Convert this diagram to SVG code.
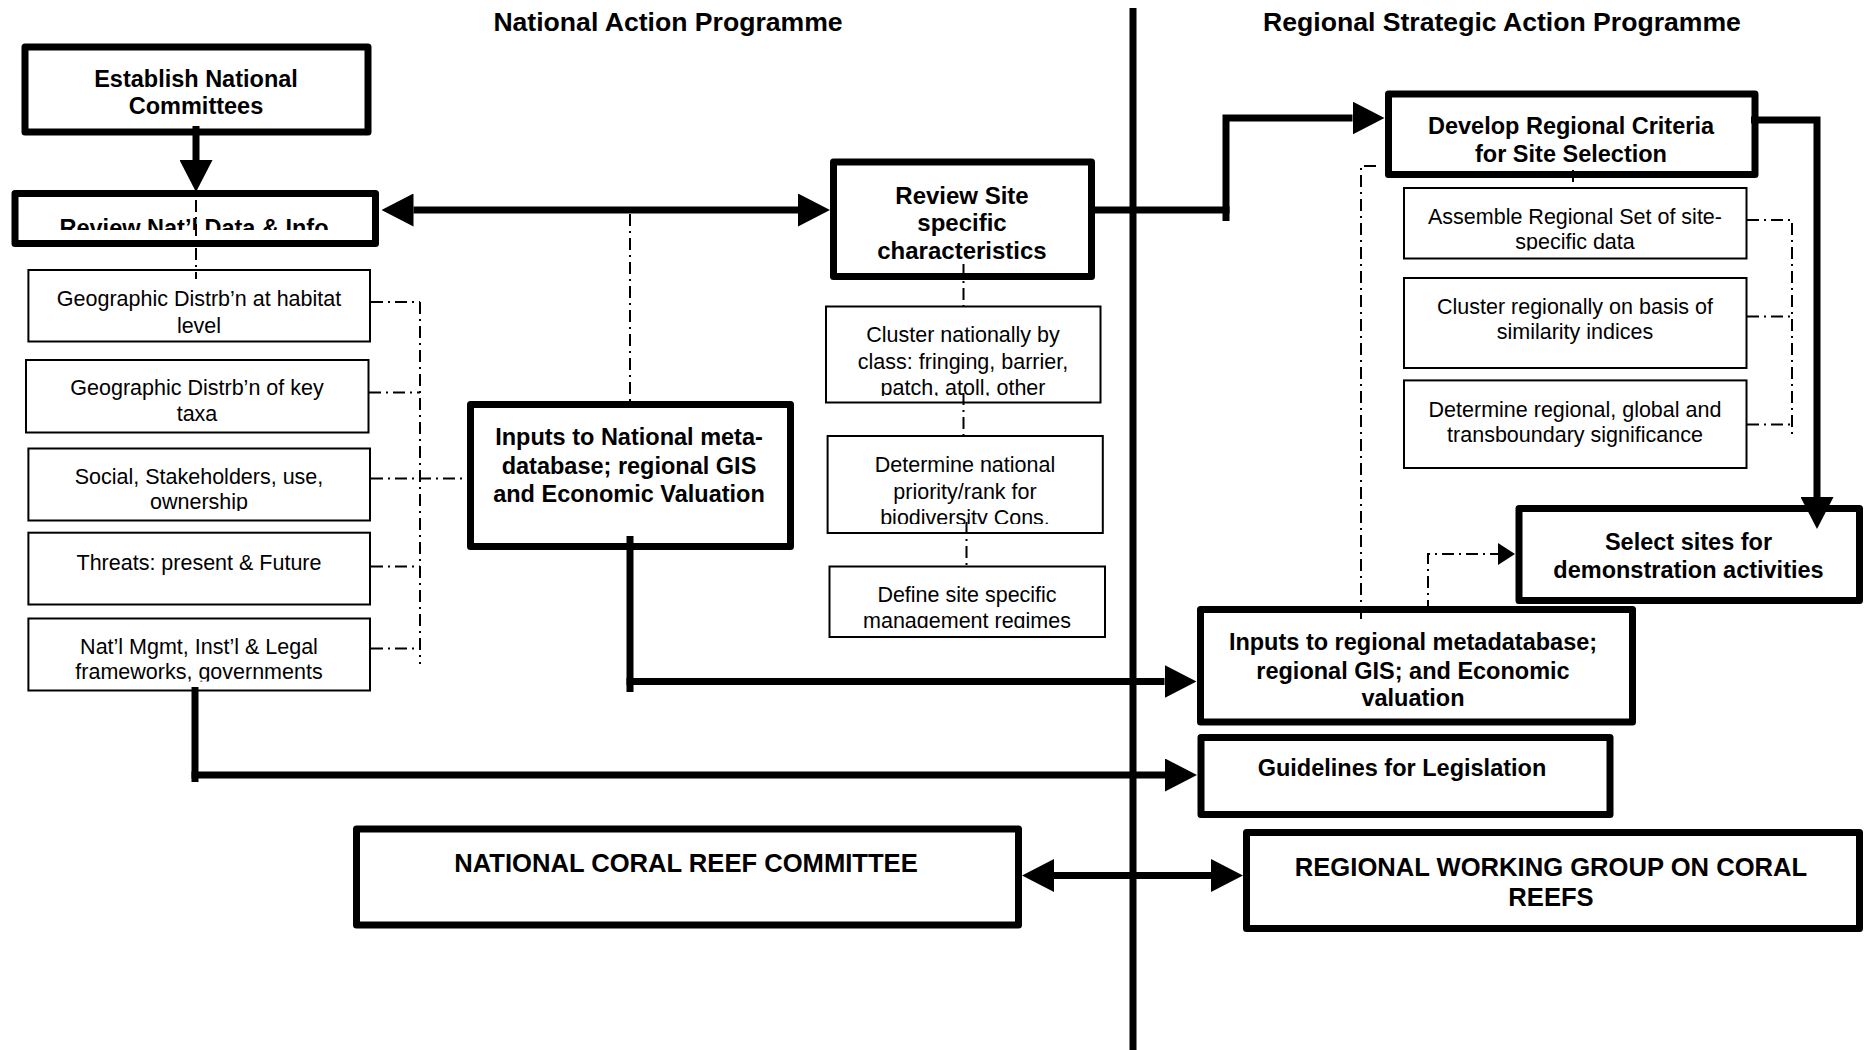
<svg xmlns="http://www.w3.org/2000/svg" width="1865" height="1050" viewBox="0 0 1865 1050">
<style>
text{font-family:"Liberation Sans",Arial,Helvetica,sans-serif;text-anchor:middle;fill:#000}
.b{font-weight:bold;font-size:23.5px}
.r{font-size:21.5px}
.t{font-weight:bold;font-size:26.6px}
.u{font-weight:bold;font-size:25.6px}
.thick{fill:#fff;stroke:#000;stroke-width:7;stroke-linejoin:round}
.thin{fill:#fff;stroke:#000;stroke-width:2}
.conn{fill:none;stroke:#000;stroke-width:7;stroke-linejoin:miter}
.dd{fill:none;stroke:#000;stroke-width:2;stroke-dasharray:12 5 2 5}
</style>
<defs>
<marker id="ah" markerUnits="userSpaceOnUse" viewBox="0 0 32 33" markerWidth="32" markerHeight="33" refX="0" refY="16.5" orient="auto-start-reverse"><path d="M0,0 L32,16.5 L0,33 z"/></marker>
<marker id="ahs" markerUnits="userSpaceOnUse" viewBox="0 0 17 22" markerWidth="17" markerHeight="22" refX="0" refY="11" orient="auto"><path d="M0,0 L17,11 L0,22 z"/></marker>
<clipPath id="cReview"><rect x="15" y="195" width="362" height="35"/></clipPath>
<clipPath id="cSocial"><rect x="29" y="449" width="340" height="62"/></clipPath>
<clipPath id="cMgmt"><rect x="29" y="619" width="340" height="62.5"/></clipPath>
<clipPath id="cAssemble"><rect x="1405" y="189" width="341" height="61.5"/></clipPath>
<clipPath id="cClusterN"><rect x="827" y="307" width="273" height="89"/></clipPath>
<clipPath id="cDetN"><rect x="828" y="437" width="274" height="87"/></clipPath>
<clipPath id="cDefine"><rect x="830" y="567" width="274" height="61"/></clipPath>
</defs>
<rect width="1865" height="1050" fill="#fff"/>

<g id="titles">
<text class="t" x="668" y="30.5">National Action Programme</text>
<text class="t" x="1502" y="30.5">Regional Strategic Action Programme</text>
</g>

<g id="divider"><line x1="1133" y1="8" x2="1133" y2="1050" stroke="#000" stroke-width="7"/></g>

<g id="establish">
<rect class="thick" x="25" y="47" width="343" height="85"/>
<text class="b" x="196" y="87">Establish National</text>
<text class="b" x="196" y="114">Committees</text>
</g>

<g id="review-natl">
<rect class="thick" x="15" y="193.5" width="360.5" height="50"/>
<text class="b" x="194" y="235.5" clip-path="url(#cReview)">Review Nat’l Data &amp; Info</text>
</g>

<g id="geo-habitat">
<rect class="thin" x="28.4" y="270" width="341.6" height="71.5"/>
<text class="r" x="199" y="306">Geographic Distrb’n at habitat</text>
<text class="r" x="199" y="333">level</text>
</g>
<g id="geo-taxa">
<rect class="thin" x="26" y="360" width="342.5" height="72.5"/>
<text class="r" x="197" y="395">Geographic Distrb’n of key</text>
<text class="r" x="197" y="421">taxa</text>
</g>
<g id="social">
<rect class="thin" x="28.4" y="448.5" width="341.6" height="72"/>
<g clip-path="url(#cSocial)">
<text class="r" x="199" y="483.5">Social, Stakeholders, use,</text>
<text class="r" x="199" y="508.5">ownership</text>
</g>
</g>
<g id="threats">
<rect class="thin" x="28.4" y="532.7" width="341.6" height="71.8"/>
<text class="r" x="199" y="570">Threats: present &amp; Future</text>
</g>
<g id="mgmt">
<rect class="thin" x="28.4" y="618.5" width="341.6" height="72"/>
<g clip-path="url(#cMgmt)">
<text class="r" x="199" y="654">Nat’l Mgmt, Inst’l &amp; Legal</text>
<text class="r" x="199" y="679">frameworks, governments</text>
</g>
</g>

<g id="inputs-natl">
<rect class="thick" x="470.5" y="404.5" width="320" height="142"/>
<text class="b" x="629" y="445">Inputs to National meta-</text>
<text class="b" x="629" y="473.5">database; regional GIS</text>
<text class="b" x="629" y="502">and Economic Valuation</text>
</g>

<g id="review-site">
<rect class="thick" x="833.5" y="162" width="258" height="114.5"/>
<text class="b" x="962" y="203.5" style="font-size:24px">Review Site</text>
<text class="b" x="962" y="231" style="font-size:24px">specific</text>
<text class="b" x="962" y="258.5" style="font-size:24px">characteristics</text>
</g>

<g id="cluster-natl">
<rect class="thin" x="826" y="306.5" width="274.5" height="96"/>
<g clip-path="url(#cClusterN)">
<text class="r" x="963" y="342">Cluster nationally by</text>
<text class="r" x="963" y="368.5">class: fringing, barrier,</text>
<text class="r" x="963" y="394.5">patch, atoll, other</text>
</g>
</g>
<g id="determine-natl">
<rect class="thin" x="827.6" y="436" width="275.2" height="97"/>
<g clip-path="url(#cDetN)">
<text class="r" x="965" y="472">Determine national</text>
<text class="r" x="965" y="498.5">priority/rank for</text>
<text class="r" x="965" y="524.5">biodiversity Cons.</text>
</g>
</g>
<g id="define">
<rect class="thin" x="829.5" y="566.5" width="275.5" height="70.5"/>
<g clip-path="url(#cDefine)">
<text class="r" x="967" y="602">Define site specific</text>
<text class="r" x="967" y="627.5">management regimes</text>
</g>
</g>

<g id="develop">
<rect class="thick" x="1388.5" y="94" width="366.5" height="80.5"/>
<text class="b" x="1571" y="134">Develop Regional Criteria</text>
<text class="b" x="1571" y="161.5">for Site Selection</text>
</g>
<g id="assemble">
<rect class="thin" x="1404" y="188" width="342.5" height="70.5"/>
<g clip-path="url(#cAssemble)">
<text class="r" x="1575" y="224">Assemble Regional Set of site-</text>
<text class="r" x="1575" y="248.5">specific data</text>
</g>
</g>
<g id="cluster-reg">
<rect class="thin" x="1404" y="278" width="342.5" height="90"/>
<text class="r" x="1575" y="313.5">Cluster regionally on basis of</text>
<text class="r" x="1575" y="338.5">similarity indices</text>
</g>
<g id="determine-reg">
<rect class="thin" x="1404" y="380.4" width="342.5" height="87.6"/>
<text class="r" x="1575" y="417">Determine regional, global and</text>
<text class="r" x="1575" y="442">transboundary significance</text>
</g>

<g id="select">
<rect class="thick" x="1519" y="508.5" width="340.5" height="92"/>
<text class="b" x="1688.5" y="550">Select sites for</text>
<text class="b" x="1688.5" y="577.5">demonstration activities</text>
</g>
<g id="inputs-reg">
<rect class="thick" x="1200.5" y="609.5" width="432" height="112.5"/>
<text class="b" x="1413" y="650">Inputs to regional metadatabase;</text>
<text class="b" x="1413" y="678.5">regional GIS; and Economic</text>
<text class="b" x="1413" y="705.5">valuation</text>
</g>
<g id="guidelines">
<rect class="thick" x="1201" y="737.5" width="409" height="77"/>
<text class="b" x="1402" y="776">Guidelines for Legislation</text>
</g>
<g id="ncrc">
<rect class="thick" x="356.5" y="829" width="662" height="96"/>
<text class="u" x="686" y="871.5">NATIONAL CORAL REEF COMMITTEE</text>
</g>
<g id="rwg">
<rect class="thick" x="1246.5" y="832.5" width="613" height="96"/>
<text class="u" x="1551" y="876">REGIONAL WORKING GROUP ON CORAL</text>
<text class="u" x="1551" y="906">REEFS</text>
</g>

<g id="connectors">
<path class="conn" d="M196,126 V160" marker-end="url(#ah)"/>
<path class="conn" d="M413.5,210 H798" marker-start="url(#ah)" marker-end="url(#ah)"/>
<path class="conn" d="M1094,210 H1229.5"/>
<path class="conn" d="M1226,221 V118 H1352.5" marker-end="url(#ah)"/>
<path class="conn" d="M1751,120 H1817 V497" marker-end="url(#ah)"/>
<path class="conn" d="M630,536 V692"/>
<path class="conn" d="M626.5,681.5 H1164.5" marker-end="url(#ah)"/>
<path class="conn" d="M195,687 V782"/>
<path class="conn" d="M191.5,775 H1165" marker-end="url(#ah)"/>
<path class="conn" d="M1054,875.5 H1211" marker-start="url(#ah)" marker-end="url(#ah)"/>

<path class="dd" d="M196,200 V279"/>
<path class="dd" d="M630,214 V401"/>
<path class="dd" d="M420,302 V664"/>
<path class="dd" d="M371,302 H420"/>
<path class="dd" d="M369,392.5 H420"/>
<path class="dd" d="M371,478.5 H467"/>
<path class="dd" d="M371,566.5 H420"/>
<path class="dd" d="M371,648.5 H420"/>
<path class="dd" d="M963.5,264 V310"/>
<path class="dd" d="M963.5,393 V437"/>
<path class="dd" d="M966.5,522 V567"/>
<path class="dd" d="M1573,170 V193"/>
<path class="dd" d="M1747,220 H1792 V435"/>
<path class="dd" d="M1747,316.5 H1792"/>
<path class="dd" d="M1747,424.5 H1792"/>
<path class="dd" d="M1376,166 H1361 V623"/>
<path class="dd" d="M1428,612 V554 H1498" marker-end="url(#ahs)"/>
</g>
</svg>
